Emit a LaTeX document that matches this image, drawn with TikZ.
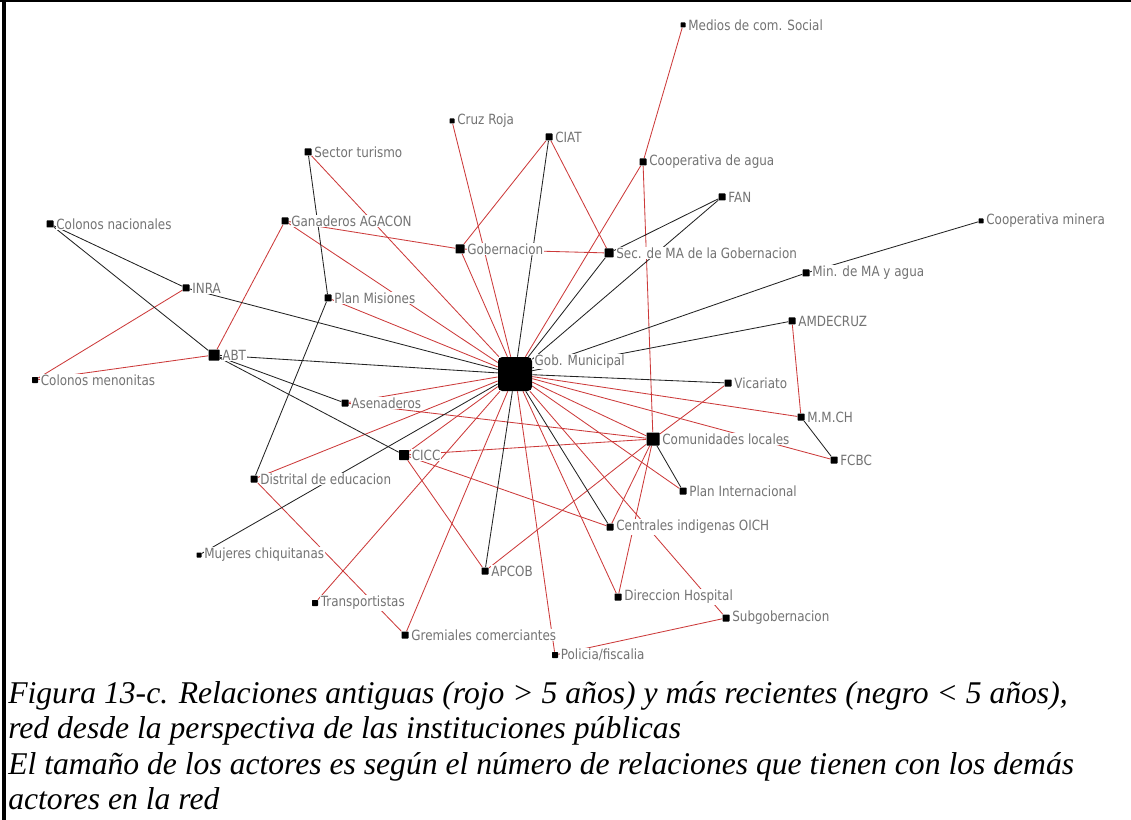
\documentclass[tikz,border=0pt]{standalone}
\usepackage{fontspec}
\setmainfont{Liberation Serif}
\newfontfamily\lblfont[FakeStretch=0.85]{DejaVu Sans}
\usetikzlibrary{positioning}
\definecolor{rojo}{RGB}{204,58,58}
\definecolor{negro}{RGB}{35,35,35}
\definecolor{gristxt}{RGB}{115,115,115}
\pgfdeclarelayer{background}
\pgfsetlayers{background,main}
\tikzset{
  actor/.style={fill=black, inner sep=0pt, minimum size=#1*0.025cm, rounded corners=0.5pt},
  actor/.default=7,
  lbl/.style={font=\lblfont\fontsize{10}{11}\selectfont, text=gristxt, fill=white, inner sep=0.5pt},
  viejo/.style={draw=rojo, line width=0.6pt},
  nuevo/.style={draw=negro, line width=0.6pt},
  leyenda/.style={font=\itshape\fontsize{22.5}{25.2}\selectfont, align=left, inner sep=0pt}
}
\begin{document}
\begin{tikzpicture}[x=0.025cm, y=-0.025cm]
\useasboundingbox (0,0) rectangle (1131,820);
\draw[line width=2.2pt] (4,0) -- (4,820);
\draw[line width=0.8pt] (0,1) -- (1131,1);
\node[actor=5] (medios) at (683,25) {};
\node[actor=5] (cruz) at (452,121) {};
\node[actor] (ciat) at (549,137) {};
\node[actor] (turismo) at (308,152) {};
\node[actor] (coopagua) at (643,162) {};
\node[actor] (fan) at (722,197) {};
\node[actor=5] (coopmin) at (981,221) {};
\node[actor] (colnac) at (50,224) {};
\node[actor] (ganad) at (285,221) {};
\node[actor=9] (gobern) at (460,249) {};
\node[actor=9] (secma) at (609,253) {};
\node[actor] (minma) at (806,273) {};
\node[actor] (inra) at (186,288) {};
\node[actor] (pmis) at (328,298) {};
\node[actor] (amdec) at (792,321) {};
\node[actor=11] (abt) at (214,355) {};
\node[actor=6] (menon) at (35,380) {};
\node[actor=34, rounded corners=3pt] (gm) at (515,374) {};
\node[actor] (vicar) at (728,383) {};
\node[actor] (asen) at (345,403) {};
\node[actor] (mmch) at (801,417) {};
\node[actor=13] (comun) at (653,439) {};
\node[actor=10] (cicc) at (404,455) {};
\node[actor] (fcbc) at (834,460) {};
\node[actor] (distr) at (254,479) {};
\node[actor] (pint) at (683,491) {};
\node[actor] (oich) at (610,527) {};
\node[actor=5] (mujer) at (199,555) {};
\node[actor] (apcob) at (485,571) {};
\node[actor] (direc) at (618,597) {};
\node[actor=6] (transp) at (315,603) {};
\node[actor] (subgob) at (726,618) {};
\node[actor] (gremi) at (405,635) {};
\node[actor=6] (polic) at (555,655) {};
\node[lbl, right=0.04cm of medios] (medios-l) {Medios de com. Social};
\node[lbl, right=0.04cm of cruz] (cruz-l) {Cruz Roja};
\node[lbl, right=0.04cm of ciat] (ciat-l) {CIAT};
\node[lbl, right=0.04cm of turismo] (turismo-l) {Sector turismo};
\node[lbl, right=0.04cm of coopagua] (coopagua-l) {Cooperativa de agua};
\node[lbl, right=0.04cm of fan] (fan-l) {FAN};
\node[lbl, right=0.04cm of coopmin] (coopmin-l) {Cooperativa minera};
\node[lbl, right=0.04cm of colnac] (colnac-l) {Colonos nacionales};
\node[lbl, right=0.04cm of ganad] (ganad-l) {Ganaderos AGACON};
\node[lbl, right=0.04cm of gobern] (gobern-l) {Gobernacion};
\node[lbl, right=0.04cm of secma] (secma-l) {Sec. de MA de la Gobernacion};
\node[lbl, right=0.04cm of minma] (minma-l) {Min. de MA y agua};
\node[lbl, right=0.04cm of inra] (inra-l) {INRA};
\node[lbl, right=0.04cm of pmis] (pmis-l) {Plan Misiones};
\node[lbl, right=0.04cm of amdec] (amdec-l) {AMDECRUZ};
\node[lbl, right=0.04cm of abt] (abt-l) {ABT};
\node[lbl, right=0.04cm of menon] (menon-l) {Colonos menonitas};
\node[lbl, anchor=north west] (gm-l) at ([xshift=1pt, yshift=2pt]gm.north east) {Gob. Municipal};
\node[lbl, right=0.04cm of vicar] (vicar-l) {Vicariato};
\node[lbl, right=0.04cm of asen] (asen-l) {Asenaderos};
\node[lbl, right=0.04cm of mmch] (mmch-l) {M.M.CH};
\node[lbl, right=0.04cm of comun] (comun-l) {Comunidades locales};
\node[lbl, right=0.04cm of cicc] (cicc-l) {CICC};
\node[lbl, right=0.04cm of fcbc] (fcbc-l) {FCBC};
\node[lbl, right=0.04cm of distr] (distr-l) {Distrital de educacion};
\node[lbl, right=0.04cm of pint] (pint-l) {Plan Internacional};
\node[lbl, right=0.04cm of oich] (oich-l) {Centrales indigenas OICH};
\node[lbl, right=0.04cm of mujer] (mujer-l) {Mujeres chiquitanas};
\node[lbl, right=0.04cm of apcob] (apcob-l) {APCOB};
\node[lbl, right=0.04cm of direc] (direc-l) {Direccion Hospital};
\node[lbl, right=0.04cm of transp] (transp-l) {Transportistas};
\node[lbl, right=0.04cm of subgob] (subgob-l) {Subgobernacion};
\node[lbl, right=0.04cm of gremi] (gremi-l) {Gremiales comerciantes};
\node[lbl, right=0.04cm of polic] (polic-l) {Policia/fiscalia};
\begin{pgfonlayer}{background}
\draw[viejo] (medios) -- (coopagua);
\draw[viejo] (coopagua) -- (gm);
\draw[viejo] (coopagua) -- (comun);
\draw[viejo] (cruz) -- (gm);
\draw[viejo] (gobern) -- (gm);
\draw[viejo] (ciat) -- (gobern);
\draw[viejo] (ciat) -- (secma);
\draw[viejo] (gobern) -- (secma);
\draw[viejo] (ganad) -- (gobern);
\draw[viejo] (turismo) -- (gm);
\draw[viejo] (ganad) -- (gm);
\draw[viejo] (ganad) -- (abt);
\draw[viejo] (pmis) -- (gm);
\draw[viejo] (inra) -- (menon);
\draw[viejo] (abt) -- (menon);
\draw[viejo] (asen) -- (gm);
\draw[viejo] (asen) -- (comun);
\draw[viejo] (cicc) -- (gm);
\draw[viejo] (cicc) -- (comun);
\draw[viejo] (cicc) -- (apcob);
\draw[viejo] (cicc) -- (oich);
\draw[viejo] (distr) -- (gm);
\draw[viejo] (distr) -- (gremi);
\draw[viejo] (transp) -- (gm);
\draw[viejo] (gremi) -- (gm);
\draw[viejo] (polic) -- (gm);
\draw[viejo] (polic) -- (subgob);
\draw[viejo] (gm) -- (subgob);
\draw[viejo] (gm) -- (direc);
\draw[viejo] (gm) -- (pint);
\draw[viejo] (gm) -- (comun);
\draw[viejo] (gm) -- (fcbc);
\draw[viejo] (gm) -- (mmch);
\draw[viejo] (comun) -- (vicar);
\draw[viejo] (comun) -- (oich);
\draw[viejo] (comun) -- (direc);
\draw[viejo] (comun) -- (apcob);
\draw[viejo] (amdec) -- (mmch);
\draw[nuevo] (ciat) -- (gm);
\draw[nuevo] (secma) -- (gm);
\draw[nuevo] (fan) -- (gm);
\draw[nuevo] (fan) -- (secma);
\draw[nuevo] (minma) -- (gm);
\draw[nuevo] (minma) -- (coopmin);
\draw[nuevo] (amdec) -- (gm);
\draw[nuevo] (gm) -- (vicar);
\draw[nuevo] (gm) -- (oich);
\draw[nuevo] (gm) -- (apcob);
\draw[nuevo] (comun) -- (pint);
\draw[nuevo] (mmch) -- (fcbc);
\draw[nuevo] (turismo) -- (pmis);
\draw[nuevo] (pmis) -- (distr);
\draw[nuevo] (colnac) -- (inra);
\draw[nuevo] (colnac) -- (abt);
\draw[nuevo] (inra) -- (gm);
\draw[nuevo] (abt) -- (gm);
\draw[nuevo] (abt) -- (asen);
\draw[nuevo] (abt) -- (cicc);
\draw[nuevo] (mujer) -- (gm);
\end{pgfonlayer}
\node[leyenda, anchor=north west] (pie) at (8,681) {Figura 13-c. Relaciones antiguas (rojo > 5 años) y más recientes (negro < 5 años),\\
red desde la perspectiva de las instituciones públicas\\
El tamaño de los actores es según el número de relaciones que tienen con los demás\\
actores en la red};
\end{tikzpicture}
\end{document}
